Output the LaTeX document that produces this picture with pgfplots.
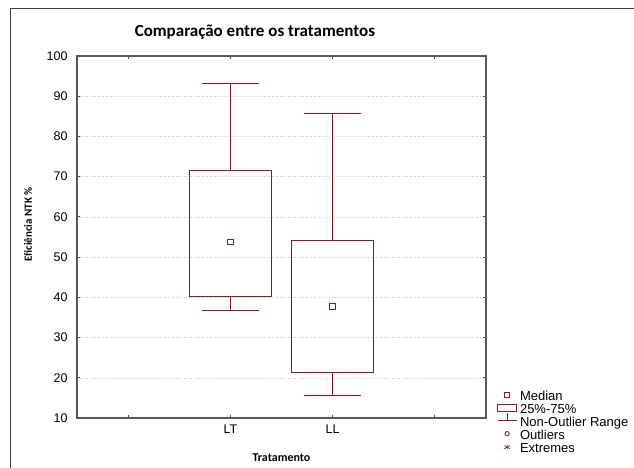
\documentclass[border=0pt]{standalone}
\usepackage{pgfplots}
\pgfplotsset{compat=1.18}
\usepackage{fontspec}
\setmainfont{Liberation Sans}
\newfontfamily\calibri{Carlito}
\definecolor{boxred}{RGB}{140,25,30}
\begin{document}
\begin{tikzpicture}
\path[use as bounding box] (0,0) rectangle (634pt,468pt);
\draw[black!75, line width=1pt] (10.5pt,0) -- (10.5pt,459pt) -- (634pt,459pt);
\begin{axis}[
  at={(77pt,50pt)}, anchor=south west,
  scale only axis, width=409pt, height=362pt,
  xmin=-0.5, xmax=3.5, ymin=10, ymax=100,
  xtick={0,1,2,3}, xticklabels={,LT,LL,},
  ytick={10,20,...,100},
  ymajorgrids, grid style={gray!45, dash pattern=on 1pt off 1.6pt},
  axis line style={black!65, line width=1.2pt},
  tick style={black!70, line width=0.8pt}, major tick length=3pt,
  tick pos=both, tick align=inside,
  tick label style={font=\fontsize{12.5}{14}\selectfont},
  yticklabel style={xshift=-6pt},
  xticklabel style={yshift=-3pt},
  /pgf/number format/assume math mode=true,
  unbounded coords=jump,
  title={\calibri\bfseries Comparação entre os tratamentos},
  title style={at={(axis description cs:0.435,1.036)}, anchor=base, font=\fontsize{17}{19}\selectfont},
  xlabel={\calibri\bfseries Tratamento},
  xlabel style={at={(axis description cs:0.5,-0.1215)}, anchor=base, font=\fontsize{12}{14}\selectfont},
  ylabel={\calibri\bfseries Eficiência NTK \%},
  ylabel style={at={(axis description cs:-0.1198,0.5345)}, anchor=center, font=\fontsize{11}{13}\selectfont},
  legend cell align=left,
  legend style={at={(axis description cs:1.027,0.076)}, anchor=north west, draw=none, fill=none,
    inner sep=0pt, row sep=0pt, font=\fontsize{13}{14}\selectfont,
    nodes={inner ysep=0pt, inner xsep=3pt, text height=9.5pt, text depth=3.5pt}},
]
% LT: box (Q1, Q3) and whiskers (min, max)
\addplot[forget plot, boxred, line width=1pt, line cap=rect, line join=miter]
  coordinates {(0.6,40.3) (1.4,40.3) (1.4,71.6) (0.6,71.6) (0.6,40.3)};
\addplot[forget plot, boxred, line width=1pt]
  coordinates {(1,71.6) (1,93.1) (nan,nan) (0.72,93.1) (1.28,93.1) (nan,nan)
               (1,40.3) (1,36.8) (nan,nan) (0.72,36.8) (1.28,36.8)};
% LL
\addplot[forget plot, boxred, line width=1pt, line cap=rect, line join=miter]
  coordinates {(1.6,21.4) (2.4,21.4) (2.4,54.1) (1.6,54.1) (1.6,21.4)};
\addplot[forget plot, boxred, line width=1pt]
  coordinates {(2,54.1) (2,85.8) (nan,nan) (1.72,85.8) (2.28,85.8) (nan,nan)
               (2,21.4) (2,15.6) (nan,nan) (1.72,15.6) (2.28,15.6)};
% medians
\addplot[forget plot, only marks, color=boxred, mark=square, mark size=2.8pt, mark options={solid, draw=boxred, fill=white, line width=0.9pt}]
  coordinates {(1,53.8)};
\addplot[forget plot, only marks, color=boxred, mark=square, mark size=2.8pt, mark options={solid, draw=boxred, fill=white, line width=0.9pt}]
  coordinates {(2,37.8)};
\addlegendimage{legend image code/.code={\draw[boxred, line width=0.8pt] (9.5pt,2pt) +(-2.4pt,-2.4pt) rectangle +(2.4pt,2.4pt);}}
\addlegendentry{Median}
\addlegendimage{legend image code/.code={\draw[boxred, line width=0.8pt] (0pt,-1.5pt) rectangle (19pt,5.5pt);}}
\addlegendentry{25\%-75\%}
\addlegendimage{legend image code/.code={\draw[boxred, line width=0.8pt, overlay] (9.5pt,10.5pt) -- (9.5pt,3pt); \draw[boxred, line width=0.8pt] (0pt,3pt) -- (19pt,3pt);}}
\addlegendentry{Non-Outlier Range}
\addlegendimage{legend image code/.code={\draw[boxred, line width=0.8pt] (9.5pt,2.5pt) circle (2.2pt);}}
\addlegendentry{Outliers}
\addlegendimage{legend image code/.code={\draw[boxred, line width=0.7pt] plot[only marks, mark=asterisk, mark size=3.2pt] coordinates {(9.5pt,2pt)};}}
\addlegendentry{Extremes}
\end{axis}
\end{tikzpicture}
\end{document}
